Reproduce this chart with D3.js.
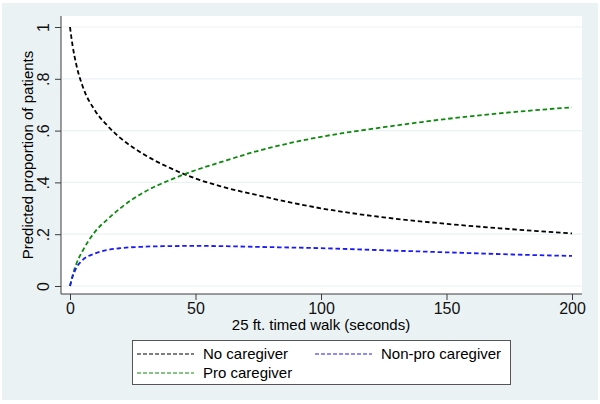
<!DOCTYPE html>
<html>
<head>
<meta charset="utf-8">
<script src="https://cdn.jsdelivr.net/npm/d3@7"></script>
<style>
body { margin: 0; background: #fff; }
svg { display: block; font-family: "Liberation Sans", Arial, sans-serif; }
</style>
</head>
<body>
<div id="chart"></div>
<script>
// walk time (seconds) at which values were read
const walk = [0, 1, 2.5, 5, 10, 15, 20, 30, 40, 50, 60, 75, 100, 125, 150, 175, 200];
const noCare = [1.0, 0.93, 0.855, 0.772, 0.677, 0.618, 0.572, 0.505, 0.455, 0.415, 0.385, 0.35, 0.30, 0.265, 0.24, 0.22, 0.203];
const proCare = [0.0, 0.04, 0.085, 0.135, 0.21, 0.258, 0.30, 0.365, 0.41, 0.447, 0.478, 0.522, 0.576, 0.613, 0.645, 0.67, 0.69];
const nonProCare = [0.0, 0.035, 0.07, 0.10, 0.126, 0.139, 0.146, 0.152, 0.154, 0.155, 0.154, 0.151, 0.146, 0.138, 0.13, 0.122, 0.116];
const xTicks = [0, 50, 100, 150, 200];
const yTicks = [0, 0.2, 0.4, 0.6, 0.8, 1];
const yTickLabels = ['0', '.2', '.4', '.6', '.8', '1'];

const series = [
    {name: 'No caregiver', values: noCare, color: '#000000'},
    {name: 'Pro caregiver', values: proCare, color: '#0c8a0c'},
    {name: 'Non-pro caregiver', values: nonProCare, color: '#1a1aff'}
];

const W = 600, H = 404;
const svg = d3.select('#chart').append('svg')
    .attr('width', W)
    .attr('height', H);

svg.append('rect')
    .attr('x', 2).attr('y', 3)
    .attr('width', 596).attr('height', 397)
    .attr('fill', '#eaf2f3');

const x = d3.scaleLinear().domain([0, 200]).range([70, 572]);
const y = d3.scaleLinear().domain([0, 1]).range([286, 27]);

// plot region
svg.append('rect')
    .attr('x', 61).attr('y', 16)
    .attr('width', 521).attr('height', 278)
    .attr('fill', '#fff');

// grid
svg.append('g').selectAll('line').data(yTicks).enter().append('line')
    .attr('x1', 62).attr('x2', 582)
    .attr('y1', d => y(d)).attr('y2', d => y(d))
    .attr('stroke', '#eaf2f3')
    .attr('stroke-width', 1.2);

// axes
const xAxis = svg.append('g')
    .attr('transform', 'translate(0,294)')
    .call(d3.axisBottom(x).tickValues(xTicks).tickSize(6).tickPadding(3));
xAxis.select('.domain').attr('d', 'M61,0H582');
const yAxis = svg.append('g')
    .attr('transform', 'translate(61,0)')
    .call(d3.axisLeft(y).tickValues(yTicks).tickSize(6)
        .tickFormat((d, i) => yTickLabels[i]));
yAxis.select('.domain').attr('d', 'M0,16V294');
yAxis.selectAll('.tick text')
    .attr('x', 0).attr('y', 0).attr('dy', 0)
    .attr('text-anchor', 'middle')
    .attr('transform', 'translate(-12,0) rotate(-90)');
svg.selectAll('.domain, .tick line').attr('stroke', '#3c3c3c');
svg.selectAll('.tick text')
    .attr('font-size', 16)
    .attr('font-family', '"Liberation Sans", Arial, sans-serif')
    .attr('fill', '#111');

// axis titles
svg.append('text')
    .attr('x', 321).attr('y', 330)
    .attr('text-anchor', 'middle')
    .attr('font-size', 15)
    .text('25 ft. timed walk (seconds)');
svg.append('text')
    .attr('transform', 'translate(33,155) rotate(-90)')
    .attr('text-anchor', 'middle')
    .attr('font-size', 15)
    .text('Predicted proportion of patients');

// lines
const line = d3.line()
    .x((d, i) => x(walk[i]))
    .y(d => y(d))
    .curve(d3.curveMonotoneX);
svg.append('g').selectAll('path').data(series).enter().append('path')
    .attr('d', d => line(d.values))
    .attr('fill', 'none')
    .attr('stroke', d => d.color)
    .attr('stroke-width', 1.8)
    .attr('stroke-dasharray', '4.5,2.8');

// legend
const lg = svg.append('g');
lg.append('rect')
    .attr('x', 132.5).attr('y', 340.5)
    .attr('width', 378).attr('height', 44)
    .attr('fill', '#fff')
    .attr('stroke', '#555');
const legPos = [[137, 354], [137, 373], [315, 354]];
const item = lg.selectAll('g.item').data(series).enter().append('g')
    .classed('item', true)
    .attr('transform', (d, i) => 'translate(' + legPos[i] + ')');
item.append('line')
    .attr('x1', 0).attr('x2', 57)
    .attr('stroke', d => d.color)
    .attr('stroke-width', 1.2)
    .attr('stroke-dasharray', '4,2');
item.append('text')
    .attr('x', 66).attr('y', 5)
    .attr('font-size', 15)
    .text(d => d.name);
</script>
</body>
</html>
